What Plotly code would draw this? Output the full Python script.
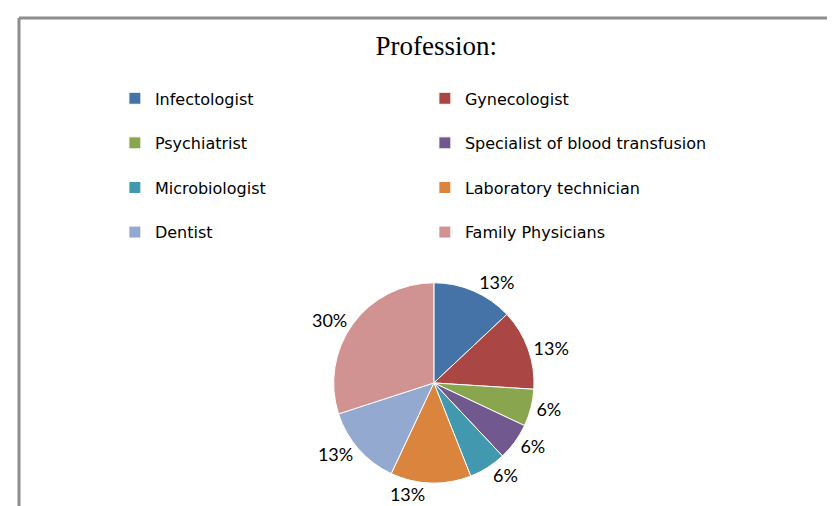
import plotly.graph_objects as go

categories = ["Infectologist", "Gynecologist", "Psychiatrist", "Specialist of blood transfusion",
              "Microbiologist", "Laboratory technician", "Dentist", "Family Physicians"]
values = [13, 13, 6, 6, 6, 13, 13, 30]
colors = ["#4572A7", "#AA4643", "#89A54E", "#71588F", "#4198AF", "#DB843D", "#93A9CF", "#D19392"]

legend_labels = [c + "<br> " for c in categories]

fig = go.Figure(go.Pie(
    labels=legend_labels,
    values=values,
    sort=False,
    direction="clockwise",
    rotation=0,
    marker=dict(colors=colors, line=dict(color="white", width=1)),
    textinfo="percent",
    texttemplate="%{percent:.0%}",
    textposition="outside",
    textfont=dict(family="Lato, sans-serif", size=18, color="black"),
    domain=dict(x=[0.25, 0.77], y=[0.061, 0.457]),
    hoverinfo="label+value+percent",
))

fig.update_layout(
    width=835, height=506,
    margin=dict(l=0, r=0, t=0, b=0),
    paper_bgcolor="white",
    plot_bgcolor="white",
    title=dict(text="Profession:", x=0.513, xanchor="center", y=0.925, yanchor="middle",
               font=dict(family="Liberation Serif, serif", size=27, color="black")),
    showlegend=True,
    legend=dict(orientation="h", x=0.128, y=0.855, xanchor="left", yanchor="top",
                entrywidth=265, entrywidthmode="pixels", valign="top",
                font=dict(family="DejaVu Sans, sans-serif", size=16, color="black"),
                bgcolor="rgba(0,0,0,0)", traceorder="normal"),
    shapes=[
        dict(type="line", xref="paper", yref="paper", x0=11/835, x1=1, y0=1-10/506, y1=1-10/506,
             line=dict(color="#8c8c8c", width=3)),
        dict(type="line", xref="paper", yref="paper", x0=11/835, x1=11/835, y0=0, y1=1-10/506,
             line=dict(color="#8c8c8c", width=3)),
    ],
)

fig.write_html("out.html")
